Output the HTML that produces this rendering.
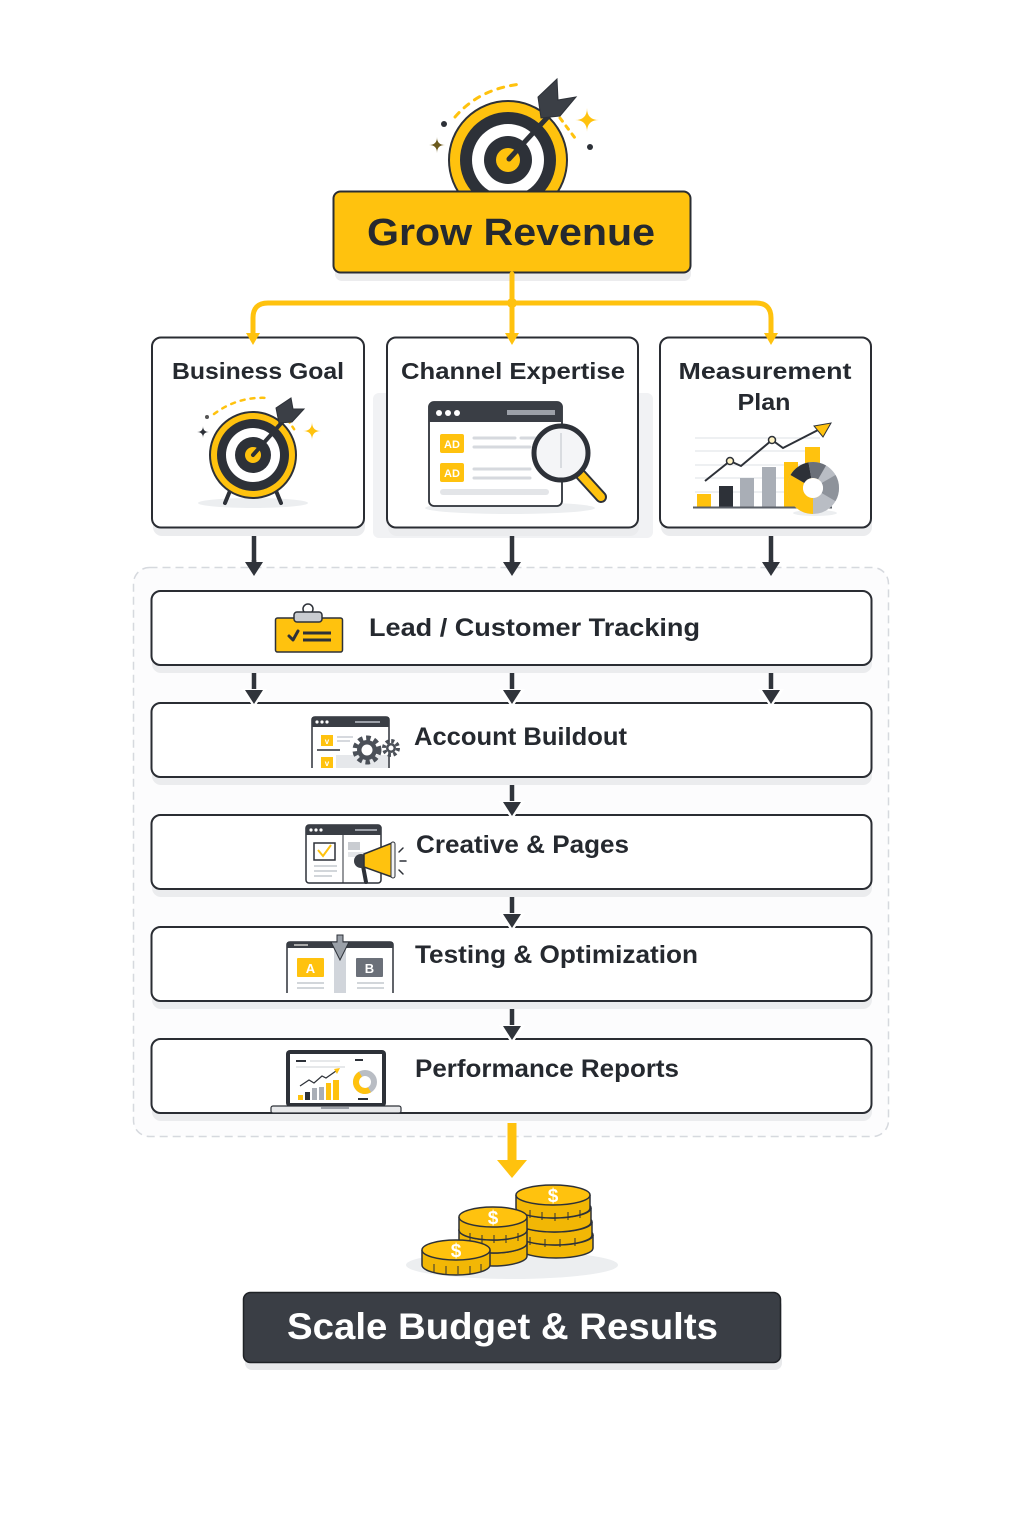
<!DOCTYPE html>
<html><head><meta charset="utf-8"><style>
html,body{margin:0;padding:0;background:#fff;}
svg{display:block;}
text{font-family:"Liberation Sans",sans-serif;font-weight:bold;fill:#25292f;}
</style></head><body>
<svg width="1024" height="1536" viewBox="0 0 1024 1536" xmlns="http://www.w3.org/2000/svg">
<rect width="1024" height="1536" fill="#fff"/>

<!-- ===== Top target ===== -->
<g>
  <path d="M455 117 Q480 88 522 84" fill="none" stroke="#FFC20E" stroke-width="3" stroke-dasharray="6 7" stroke-linecap="round"/>
  <path d="M560 118 L575 138" fill="none" stroke="#FFC20E" stroke-width="3" stroke-dasharray="4 6" stroke-linecap="round"/>
  <circle cx="444" cy="124" r="3" fill="#2d3138"/>
  <circle cx="590" cy="147" r="3" fill="#2d3138"/>
  <path d="M437 137 Q437 145 445 145 Q437 145 437 153 Q437 145 429 145 Q437 145 437 137Z" fill="#6b5a1e"/>
  <path d="M587 108 Q587 120 599 120 Q587 120 587 132 Q587 120 575 120 Q587 120 587 108Z" fill="#FFC20E"/>
  <circle cx="508" cy="160" r="59" fill="#FFC20E" stroke="#2d3138" stroke-width="2"/>
  <circle cx="508" cy="160" r="48" fill="#2d3138"/>
  <circle cx="508" cy="160" r="36" fill="#fff"/>
  <circle cx="508" cy="160" r="24" fill="#2d3138"/>
  <circle cx="508" cy="160" r="12" fill="#FFC20E"/>
  <line x1="509" y1="159" x2="556" y2="108" stroke="#2d3138" stroke-width="5" stroke-linecap="round"/>
  <polygon points="541,118 538,97 557,79 558,100 576,97 560,116" fill="#3b3f46" stroke="#2d3138" stroke-width="1"/>
</g>

<!-- Grow Revenue box -->
<rect x="335" y="199" width="356" height="82" rx="7" fill="#ececee"/>
<rect x="333.5" y="191.5" width="357" height="81" rx="7" fill="#FFC20E" stroke="#2a2d33" stroke-width="2"/>
<text x="511" y="245" font-size="38" text-anchor="middle" textLength="288" lengthAdjust="spacingAndGlyphs">Grow Revenue</text>

<!-- yellow connectors -->
<g fill="none" stroke="#FFC20E" stroke-width="5" stroke-linecap="round">
  <path d="M512 274 V336"/>
  <path d="M253 334 V318 Q253 303 268 303 H756 Q771 303 771 318 V334"/>
</g>
<circle cx="512" cy="303" r="5" fill="#FFC20E"/>

<!-- gray panel behind channel expertise -->
<rect x="373" y="393" width="280" height="145" rx="6" fill="#f1f2f4"/>

<!-- three boxes -->
<rect x="153" y="343" width="212" height="193" rx="9" fill="#ebecee"/>
<rect x="388" y="343" width="251" height="193" rx="9" fill="#ebecee"/>
<rect x="661" y="343" width="211" height="193" rx="9" fill="#ebecee"/>
<rect x="152" y="337.5" width="212" height="190" rx="9" fill="#fff" stroke="#2a2d33" stroke-width="2"/>
<rect x="387" y="337.5" width="251" height="190" rx="9" fill="#fff" stroke="#2a2d33" stroke-width="2"/>
<rect x="660" y="337.5" width="211" height="190" rx="9" fill="#fff" stroke="#2a2d33" stroke-width="2"/>

<!-- yellow arrowheads over box borders -->
<g fill="#FFC20E">
  <polygon points="246,333 260,333 253,345"/>
  <polygon points="505,333 519,333 512,345"/>
  <polygon points="764,333 778,333 771,345"/>
</g>

<text x="258" y="379" font-size="23" text-anchor="middle" textLength="172" lengthAdjust="spacingAndGlyphs">Business Goal</text>
<text x="513" y="379" font-size="23" text-anchor="middle" textLength="224" lengthAdjust="spacingAndGlyphs">Channel Expertise</text>
<text x="765" y="379" font-size="23" text-anchor="middle" textLength="173" lengthAdjust="spacingAndGlyphs">Measurement</text>
<text x="764" y="410" font-size="23" text-anchor="middle" textLength="53" lengthAdjust="spacingAndGlyphs">Plan</text>

<!-- Business goal icon -->
<g>
  <ellipse cx="253" cy="503" rx="55" ry="5" fill="#eceef0"/>
  <line x1="232" y1="486" x2="225" y2="503" stroke="#2d3138" stroke-width="4" stroke-linecap="round"/>
  <line x1="274" y1="486" x2="281" y2="503" stroke="#2d3138" stroke-width="4" stroke-linecap="round"/>
  <path d="M214 414 Q238 396 268 398" fill="none" stroke="#FFC20E" stroke-width="2.5" stroke-dasharray="4 6" stroke-linecap="round"/>
  <path d="M288 420 L296 432" fill="none" stroke="#FFC20E" stroke-width="2.5" stroke-dasharray="3 5" stroke-linecap="round"/>
  <circle cx="207" cy="417" r="2" fill="#555"/>
  <path d="M203 426 Q203 432 209 432 Q203 432 203 438 Q203 432 197 432 Q203 432 203 426Z" fill="#2d3138"/>
  <path d="M312 422 Q312 431 321 431 Q312 431 312 440 Q312 431 303 431 Q312 431 312 422Z" fill="#FFC20E"/>
  <circle cx="253" cy="455" r="43" fill="#FFC20E" stroke="#2d3138" stroke-width="2"/>
  <circle cx="253" cy="455" r="36" fill="#2d3138"/>
  <circle cx="253" cy="455" r="27" fill="#fff"/>
  <circle cx="253" cy="455" r="18" fill="#2d3138"/>
  <circle cx="253" cy="455" r="8" fill="#FFC20E"/>
  <line x1="253" y1="455" x2="284" y2="420" stroke="#2d3138" stroke-width="4" stroke-linecap="round"/>
  <polygon points="279,423 276,408 291,398 293,409 304,409 292,422" fill="#3b3f46" stroke="#2d3138" stroke-width="1"/>
</g>

<!-- Channel expertise icon -->
<g>
  <ellipse cx="510" cy="508" rx="85" ry="6" fill="#eceef0"/>
  <rect x="429" y="402" width="133" height="104" rx="5" fill="#fff" stroke="#2d3138" stroke-width="1.8"/>
  <path d="M429 422 V407 Q429 402 434 402 H557 Q562 402 562 407 V422 Z" fill="#3a3e45"/>
  <circle cx="439" cy="413" r="3" fill="#fff"/><circle cx="448" cy="413" r="3" fill="#fff"/><circle cx="457" cy="413" r="3" fill="#fff"/>
  <rect x="507" y="410" width="48" height="5" fill="#9ca0a8"/>
  <rect x="440" y="434" width="24" height="19" rx="2" fill="#FFC20E"/>
  <text x="452" y="448" font-size="11" text-anchor="middle" style="fill:#fff">AD</text>
  <rect x="440" y="463" width="24" height="19" rx="2" fill="#FFC20E"/>
  <text x="452" y="477" font-size="11" text-anchor="middle" style="fill:#fff">AD</text>
  <g stroke="#d6d9de" stroke-width="3" stroke-linecap="round">
    <line x1="474" y1="438" x2="515" y2="438"/><line x1="521" y1="438" x2="535" y2="438"/>
    <line x1="474" y1="447" x2="530" y2="447"/>
    <line x1="474" y1="469" x2="530" y2="469"/>
    <line x1="474" y1="478" x2="530" y2="478"/>
  </g>
  <rect x="440" y="489" width="109" height="6" rx="3" fill="#e3e5e8"/>
  <line x1="581" y1="475" x2="601" y2="497" stroke="#2d3138" stroke-width="12" stroke-linecap="round"/>
  <line x1="581" y1="475" x2="601" y2="497" stroke="#FFC20E" stroke-width="8" stroke-linecap="round"/>
  <circle cx="561" cy="453" r="27" fill="#f4f5f7" stroke="#2d3138" stroke-width="5"/>
  <line x1="561" y1="433" x2="561" y2="468" stroke="#d0d3d8" stroke-width="1.5"/>
</g>

<!-- Measurement icon -->
<g>
  <g stroke="#e9ebee" stroke-width="1.5">
    <line x1="695" y1="438" x2="820" y2="438"/><line x1="695" y1="451" x2="820" y2="451"/>
    <line x1="695" y1="465" x2="820" y2="465"/><line x1="695" y1="478" x2="820" y2="478"/>
    <line x1="695" y1="492" x2="820" y2="492"/>
  </g>
  <rect x="697" y="494" width="14" height="13" fill="#FFC20E"/>
  <rect x="719" y="486" width="14" height="21" fill="#2d3138"/>
  <rect x="740" y="478" width="14" height="29" fill="#a9aeb6"/>
  <rect x="762" y="467" width="14" height="40" fill="#a9aeb6"/>
  <rect x="784" y="462" width="14" height="45" fill="#FFC20E"/>
  <rect x="805" y="447" width="15" height="60" fill="#FFC20E"/>
  <line x1="693" y1="507.5" x2="832" y2="507.5" stroke="#5a5f67" stroke-width="2"/>
  <polyline points="705,481 730,461 741,466 772,440 783,448 820,429" fill="none" stroke="#2d3138" stroke-width="2"/>
  <polygon points="814,426 831,423 823,437" fill="#FFC20E" stroke="#2d3138" stroke-width="1"/>
  <circle cx="730" cy="461" r="3.5" fill="#fff3c4" stroke="#2d3138" stroke-width="1.5"/>
  <circle cx="772" cy="440" r="3.5" fill="#fff3c4" stroke="#2d3138" stroke-width="1.5"/>
  <ellipse cx="815" cy="513" rx="22" ry="3" fill="#eceef0"/>
  <circle cx="813" cy="488" r="18" fill="none" stroke="#b9bdc4" stroke-width="16"/>
  <circle cx="813" cy="488" r="18" fill="none" stroke="#8e939b" stroke-width="16" stroke-dasharray="18.9 200" transform="rotate(-30 813 488)"/>
  <circle cx="813" cy="488" r="18" fill="none" stroke="#FFC20E" stroke-width="16" stroke-dasharray="37.7 200" transform="rotate(90 813 488)"/>
  <circle cx="813" cy="488" r="18" fill="none" stroke="#2d3138" stroke-width="16" stroke-dasharray="15.7 200" transform="rotate(210 813 488)"/>
  <circle cx="813" cy="488" r="18" fill="none" stroke="#6b7079" stroke-width="16" stroke-dasharray="12.6 200" transform="rotate(260 813 488)"/>
  <circle cx="813" cy="488" r="10" fill="#fff"/>
</g>

<!-- arrows from boxes -->
<g stroke="#30343b" stroke-width="4.5">
  <line x1="254" y1="536" x2="254" y2="564"/>
  <line x1="512" y1="536" x2="512" y2="564"/>
  <line x1="771" y1="536" x2="771" y2="564"/>
</g>

<!-- dashed container -->
<rect x="133.5" y="567.5" width="755" height="569" rx="16" fill="#fcfcfd" stroke="#d6d9de" stroke-width="1.5" stroke-dasharray="8 5"/>

<g stroke="#30343b" stroke-width="4.5">
  <line x1="254" y1="560" x2="254" y2="566"/>
  <line x1="512" y1="560" x2="512" y2="566"/>
  <line x1="771" y1="560" x2="771" y2="566"/>
</g>
<g fill="#30343b">
  <polygon points="245,562 263,562 254,576"/>
  <polygon points="503,562 521,562 512,576"/>
  <polygon points="762,562 780,562 771,576"/>
</g>

<!-- rows -->
<g>
  <rect x="152" y="598" width="720" height="75" rx="9" fill="#ebecee"/>
  <rect x="152" y="710" width="720" height="75" rx="9" fill="#ebecee"/>
  <rect x="152" y="822" width="720" height="75" rx="9" fill="#ebecee"/>
  <rect x="152" y="934" width="720" height="75" rx="9" fill="#ebecee"/>
  <rect x="152" y="1046" width="720" height="75" rx="9" fill="#ebecee"/>
  <rect x="151.5" y="591" width="720" height="74" rx="9" fill="#fff" stroke="#2a2d33" stroke-width="2"/>
  <rect x="151.5" y="703" width="720" height="74" rx="9" fill="#fff" stroke="#2a2d33" stroke-width="2"/>
  <rect x="151.5" y="815" width="720" height="74" rx="9" fill="#fff" stroke="#2a2d33" stroke-width="2"/>
  <rect x="151.5" y="927" width="720" height="74" rx="9" fill="#fff" stroke="#2a2d33" stroke-width="2"/>
  <rect x="151.5" y="1039" width="720" height="74" rx="9" fill="#fff" stroke="#2a2d33" stroke-width="2"/>
</g>

<!-- arrows between rows -->
<g stroke="#30343b" stroke-width="4.5">
  <line x1="254" y1="673" x2="254" y2="692"/>
  <line x1="512" y1="673" x2="512" y2="692"/>
  <line x1="771" y1="673" x2="771" y2="692"/>
  <line x1="512" y1="785" x2="512" y2="804"/>
  <line x1="512" y1="897" x2="512" y2="916"/>
  <line x1="512" y1="1009" x2="512" y2="1028"/>
</g>
<g fill="#fff">
  <polygon points="241,689 267,689 254,708"/>
  <polygon points="499,689 525,689 512,708"/>
  <polygon points="758,689 784,689 771,708"/>
  <polygon points="499,801 525,801 512,820"/>
  <polygon points="499,913 525,913 512,932"/>
  <polygon points="499,1025 525,1025 512,1044"/>
</g>
<g fill="#30343b">
  <polygon points="245,690 263,690 254,704"/>
  <polygon points="503,690 521,690 512,704"/>
  <polygon points="762,690 780,690 771,704"/>
  <polygon points="503,802 521,802 512,816"/>
  <polygon points="503,914 521,914 512,928"/>
  <polygon points="503,1026 521,1026 512,1040"/>
</g>

<!-- row texts -->
<text x="369" y="636" font-size="25" textLength="331" lengthAdjust="spacingAndGlyphs">Lead / Customer Tracking</text>
<text x="414" y="745" font-size="25" textLength="213" lengthAdjust="spacingAndGlyphs">Account Buildout</text>
<text x="416" y="853" font-size="25" textLength="213" lengthAdjust="spacingAndGlyphs">Creative &amp; Pages</text>
<text x="415" y="963" font-size="25" textLength="283" lengthAdjust="spacingAndGlyphs">Testing &amp; Optimization</text>
<text x="415" y="1077" font-size="25" textLength="264" lengthAdjust="spacingAndGlyphs">Performance Reports</text>

<!-- Row1 clipboard icon -->
<g>
  <rect x="275.5" y="618" width="67" height="34" rx="2" fill="#FFC20E" stroke="#2d3138" stroke-width="1.5"/>
  <circle cx="308" cy="609" r="5" fill="none" stroke="#2d3138" stroke-width="1.5"/>
  <rect x="294" y="612" width="28" height="10" rx="3" fill="#c9ccd1" stroke="#2d3138" stroke-width="1.5"/>
  <polyline points="289,636 293,640 298,631" fill="none" stroke="#2d3138" stroke-width="3" stroke-linecap="round" stroke-linejoin="round"/>
  <line x1="303" y1="633" x2="331" y2="633" stroke="#2d3138" stroke-width="3"/>
  <line x1="303" y1="640" x2="331" y2="640" stroke="#2d3138" stroke-width="3"/>
</g>

<!-- Row2 account buildout icon -->
<g>
  <path d="M312 768 V720 Q312 717 315 717 H386 Q389 717 389 720 V768" fill="#fff" stroke="#2d3138" stroke-width="1.5"/>
  <path d="M312 727 V720 Q312 717 315 717 H386 Q389 717 389 720 V727 Z" fill="#3a3e45"/>
  <circle cx="317" cy="722" r="1.6" fill="#fff"/><circle cx="322" cy="722" r="1.6" fill="#fff"/><circle cx="327" cy="722" r="1.6" fill="#fff"/>
  <rect x="355" y="721" width="25" height="2" fill="#9ca0a8"/>
  <rect x="321" y="735" width="12" height="11" fill="#FFC20E"/>
  <rect x="321" y="757" width="12" height="11" fill="#FFC20E"/>
  <text x="327" y="744" font-size="8" text-anchor="middle" style="fill:#fff">v</text>
  <text x="327" y="766" font-size="8" text-anchor="middle" style="fill:#fff">v</text>
  <line x1="337" y1="737" x2="353" y2="737" stroke="#d6d9de" stroke-width="2"/>
  <line x1="337" y1="741" x2="350" y2="741" stroke="#d6d9de" stroke-width="2"/>
  <line x1="317" y1="750" x2="340" y2="750" stroke="#2d3138" stroke-width="1.5"/>
  <rect x="336" y="755" width="52" height="13" fill="#e6e8eb"/>
  <circle cx="391" cy="748" r="7" fill="none" stroke="#4b5058" stroke-width="4" stroke-dasharray="3 2.5"/>
  <circle cx="391" cy="748" r="5" fill="#4b5058"/>
  <circle cx="391" cy="748" r="2.5" fill="#fff"/>
  <circle cx="367" cy="750" r="12" fill="none" stroke="#4b5058" stroke-width="5" stroke-dasharray="4.5 3.4"/>
  <circle cx="367" cy="750" r="10" fill="#4b5058"/>
  <circle cx="367" cy="750" r="5.5" fill="#fff"/>
</g>

<!-- Row3 creative icon -->
<g>
  <rect x="306" y="825" width="75" height="58" rx="3" fill="#fff" stroke="#2d3138" stroke-width="1.5"/>
  <path d="M306 835 V828 Q306 825 309 825 H378 Q381 825 381 828 V835 Z" fill="#3a3e45"/>
  <circle cx="311" cy="830" r="1.6" fill="#fff"/><circle cx="316" cy="830" r="1.6" fill="#fff"/><circle cx="321" cy="830" r="1.6" fill="#fff"/>
  <rect x="355" y="829" width="22" height="2" fill="#9ca0a8"/>
  <line x1="343" y1="835" x2="343" y2="883" stroke="#2d3138" stroke-width="1"/>
  <rect x="314" y="843" width="21" height="17" fill="#fff" stroke="#2d3138" stroke-width="1.5"/>
  <polyline points="318,850 323,856 331,845" fill="none" stroke="#FFC20E" stroke-width="2"/>
  <g stroke="#c4c8ce" stroke-width="1.5">
    <line x1="314" y1="866" x2="337" y2="866"/><line x1="314" y1="871" x2="337" y2="871"/><line x1="314" y1="876" x2="332" y2="876"/>
  </g>
  <rect x="348" y="842" width="12" height="8" fill="#c9ccd1"/>
  <rect x="348" y="852" width="20" height="5" fill="#e3e5e8"/>
  <line x1="363" y1="866" x2="366" y2="882" stroke="#2d3138" stroke-width="4" stroke-linecap="round"/>
  <circle cx="361" cy="861" r="7" fill="#3a3e45"/>
  <polygon points="364,854 392,843 392,877 364,867" fill="#FFC20E" stroke="#2d3138" stroke-width="1.5"/>
  <rect x="391" y="842" width="4" height="36" rx="2" fill="#f2f2f2" stroke="#2d3138" stroke-width="1"/>
  <g stroke="#2d3138" stroke-width="1.5" stroke-linecap="round">
    <line x1="399" y1="852" x2="403" y2="848"/><line x1="400" y1="861" x2="406" y2="861"/><line x1="399" y1="870" x2="403" y2="874"/>
  </g>
</g>

<!-- Row4 testing icon -->
<g>
  <path d="M287 993 V945 Q287 942 290 942 H390 Q393 942 393 945 V993" fill="#fff" stroke="#2d3138" stroke-width="1.5"/>
  <path d="M287 948 V945 Q287 942 290 942 H390 Q393 942 393 945 V948 Z" fill="#3a3e45"/>
  <rect x="294" y="944" width="14" height="2" fill="#aaa"/>
  <rect x="334" y="948" width="12" height="45" fill="#d1d5db"/>
  <path d="M337 935 H343 V942 H349 L340 960 L331 942 H337 Z" fill="#9aa0a8" stroke="#2d3138" stroke-width="1"/>
  <rect x="297" y="958" width="27" height="19" rx="1" fill="#FFC20E"/>
  <text x="310.5" y="973" font-size="13" text-anchor="middle" style="fill:#fff">A</text>
  <rect x="356" y="958" width="27" height="19" rx="1" fill="#6b7079"/>
  <text x="369.5" y="973" font-size="13" text-anchor="middle" style="fill:#fff">B</text>
  <g stroke="#c4c8ce" stroke-width="1.5">
    <line x1="297" y1="983" x2="324" y2="983"/><line x1="297" y1="988" x2="324" y2="988"/>
    <line x1="357" y1="983" x2="384" y2="983"/><line x1="357" y1="988" x2="384" y2="988"/>
  </g>
</g>

<!-- Row5 laptop icon -->
<g>
  <rect x="286" y="1050" width="100" height="57" rx="4" fill="#2d3138"/>
  <rect x="290" y="1054" width="92" height="49" fill="#fff"/>
  <rect x="271" y="1106" width="130" height="7" rx="2" fill="#e8e9eb" stroke="#2d3138" stroke-width="1.2"/>
  <rect x="321" y="1107" width="28" height="2" fill="#9ca0a8"/>
  <rect x="296" y="1060" width="10" height="2" fill="#2d3138"/>
  <g stroke="#d6d9de" stroke-width="1.2">
    <line x1="310" y1="1061" x2="340" y2="1061"/><line x1="296" y1="1067" x2="345" y2="1067"/>
  </g>
  <rect x="355" y="1059" width="8" height="2" fill="#2d3138"/>
  <rect x="298" y="1095" width="5" height="5" fill="#FFC20E"/>
  <rect x="305" y="1092" width="5" height="8" fill="#2d3138"/>
  <rect x="312" y="1088" width="5" height="12" fill="#a9aeb6"/>
  <rect x="319" y="1087" width="5" height="13" fill="#a9aeb6"/>
  <rect x="326" y="1083" width="5" height="17" fill="#FFC20E"/>
  <rect x="333" y="1080" width="6" height="20" fill="#FFC20E"/>
  <polyline points="300,1086 309,1080 314,1083 322,1076 326,1078 336,1071" fill="none" stroke="#2d3138" stroke-width="1.2"/>
  <polygon points="334,1069 340,1068 337,1074" fill="#FFC20E"/>
  <circle cx="365" cy="1082" r="9" fill="none" stroke="#b9bdc4" stroke-width="6"/>
  <circle cx="365" cy="1082" r="9" fill="none" stroke="#FFC20E" stroke-width="6" stroke-dasharray="28 100" transform="rotate(60 365 1082)"/>
  <rect x="358" y="1098" width="10" height="2" fill="#2d3138"/>
</g>

<!-- yellow arrow down -->
<rect x="507.5" y="1123" width="9" height="40" fill="#FFC20E"/>
<polygon points="497,1160 527,1160 512,1178" fill="#FFC20E"/>

<!-- coins -->
<ellipse cx="512" cy="1265" rx="106" ry="14" fill="#eceef0"/>
<g stroke="#2d3138" stroke-width="1.5">
  <path d="M519 1235 V1248 A37 10 0 0 0 593 1248 V1235" fill="#F2B705"/>
  <ellipse cx="556" cy="1235" rx="37" ry="10" fill="#FFC20E"/>
  <path d="M518 1222 V1235 A37 10 0 0 0 592 1235 V1222" fill="#F2B705"/>
  <ellipse cx="555" cy="1222" rx="37" ry="10" fill="#FFC20E"/>
  <path d="M517 1208 V1222 A37 10 0 0 0 591 1222 V1208" fill="#F2B705"/>
  <ellipse cx="554" cy="1208" rx="37" ry="10" fill="#FFC20E"/>
  <path d="M516 1195 V1208 A37 10 0 0 0 590 1208 V1195" fill="#F2B705"/>
  <ellipse cx="553" cy="1195" rx="37" ry="10" fill="#FFC20E"/>
  <path d="M459 1243 V1256 A34 10 0 0 0 527 1256 V1243" fill="#F2B705"/>
  <ellipse cx="493" cy="1243" rx="34" ry="10" fill="#FFC20E"/>
  <path d="M459 1230 V1243 A34 10 0 0 0 527 1243 V1230" fill="#F2B705"/>
  <ellipse cx="493" cy="1230" rx="34" ry="10" fill="#FFC20E"/>
  <path d="M459 1217 V1230 A34 10 0 0 0 527 1230 V1217" fill="#F2B705"/>
  <ellipse cx="493" cy="1217" rx="34" ry="10" fill="#FFC20E"/>
  <path d="M422 1250 V1265 A34 10 0 0 0 490 1265 V1250" fill="#F2B705"/>
  <ellipse cx="456" cy="1250" rx="34" ry="10" fill="#FFC20E"/>
</g>
<g stroke="#2d3138" stroke-width="1">
  <line x1="530" y1="1210" x2="530" y2="1218"/><line x1="542" y1="1212" x2="542" y2="1220"/><line x1="555" y1="1213" x2="555" y2="1221"/><line x1="568" y1="1212" x2="568" y2="1220"/><line x1="580" y1="1210" x2="580" y2="1218"/>
  <line x1="530" y1="1237" x2="530" y2="1245"/><line x1="545" y1="1239" x2="545" y2="1247"/><line x1="560" y1="1239" x2="560" y2="1247"/><line x1="575" y1="1238" x2="575" y2="1246"/>
  <line x1="470" y1="1233" x2="470" y2="1241"/><line x1="482" y1="1235" x2="482" y2="1243"/><line x1="494" y1="1235" x2="494" y2="1243"/><line x1="506" y1="1235" x2="506" y2="1243"/><line x1="518" y1="1233" x2="518" y2="1241"/>
  <line x1="434" y1="1264" x2="434" y2="1272"/><line x1="446" y1="1266" x2="446" y2="1274"/><line x1="458" y1="1266" x2="458" y2="1274"/><line x1="470" y1="1266" x2="470" y2="1274"/><line x1="481" y1="1264" x2="481" y2="1272"/>
</g>
<g font-size="19" text-anchor="middle">
  <text x="553" y="1202" style="fill:#fff">$</text>
  <text x="493" y="1224" style="fill:#fff">$</text>
  <text x="456" y="1257" style="fill:#fff">$</text>
</g>

<!-- Scale Budget box -->
<rect x="245" y="1299" width="537" height="71" rx="7" fill="#e8e9eb"/>
<rect x="243.5" y="1292.5" width="537" height="70" rx="7" fill="#3a3e45" stroke="#1f2226" stroke-width="1.5"/>
<text x="287" y="1339" font-size="37" textLength="431" lengthAdjust="spacingAndGlyphs" style="fill:#fff">Scale Budget &amp; Results</text>
</svg>
</body></html>
